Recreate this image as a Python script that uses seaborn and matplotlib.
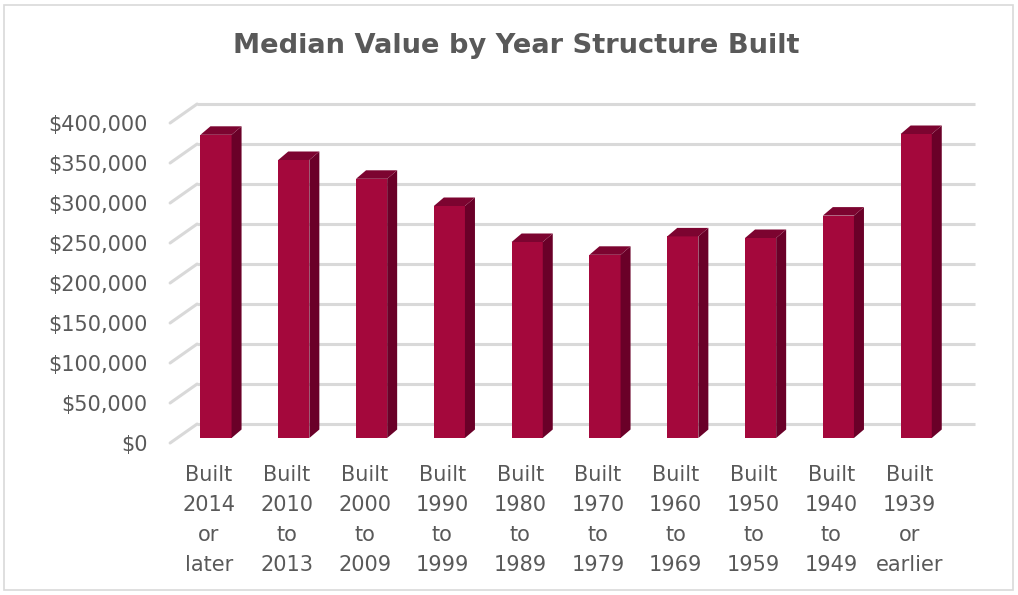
import numpy as np
import pandas as pd
import matplotlib
matplotlib.use("Agg")
import matplotlib.pyplot as plt
from matplotlib.patches import Polygon, Rectangle
import seaborn as sns

categories = ["Built\n2014\nor\nlater", "Built\n2010\nto\n2013", "Built\n2000\nto\n2009",
              "Built\n1990\nto\n1999", "Built\n1980\nto\n1989", "Built\n1970\nto\n1979",
              "Built\n1960\nto\n1969", "Built\n1950\nto\n1959", "Built\n1940\nto\n1949",
              "Built\n1939\nor\nearlier"]
values = [379000, 347500, 324000, 290000, 245000, 229000, 252000, 250000, 278000, 380000]
ticks = [0, 50000, 100000, 150000, 200000, 250000, 300000, 350000, 400000]
tick_labels = ["$0", "$50,000", "$100,000", "$150,000", "$200,000", "$250,000",
               "$300,000", "$350,000", "$400,000"]
title = "Median Value by Year Structure Built"

FRONT = "#A4083C"
SIDE = "#6A0028"
TOP = "#7C0430"
TEXT = "#595959"
GRID = "#D9D9D9"

sns.set_theme(style="white")
plt.rcParams["font.family"] = ["DejaVu Sans"]

W, H = 1018, 595
fig = plt.figure(figsize=(W / 100, H / 100), dpi=100)

px_left, px_right, px_top, px_bottom = 160, 985, 95, 450
ax = fig.add_axes([px_left / W, 1 - px_bottom / H, (px_right - px_left) / W, (px_bottom - px_top) / H])

df = pd.DataFrame({"cat": categories, "val": values})
sns.barplot(data=df, x="cat", y="val", color=FRONT, width=0.4, saturation=1,
            edgecolor="none", ax=ax, zorder=3)

xs = 77.8
ys = 0.8 / 1000
ax.set_xlim((px_left - 216) / xs, (px_right - 216) / xs)
ax.set_ylim(-(px_bottom - 438) / ys, (438 - px_top) / ys)

bar_dx, bar_dy = 10 / xs, 8.5 / ys
front_shift = 7 / xs
front_dy = -5 / ys
wall_dy = 14 / ys
n = len(categories)
x_front_left = -0.5 - front_shift
x_wall_left = x_front_left + 27 / xs
x_wall_right = n - 0.5 - front_shift + 27 / xs

for v in ticks:
    yf = v + front_dy
    yw = v + wall_dy
    ax.plot([x_wall_left, x_wall_right], [yw, yw], color=GRID, lw=2.2, zorder=1,
            solid_capstyle="butt")
    ax.plot([x_front_left, x_wall_left], [yf, yw], color=GRID, lw=2.2, zorder=1)

for p in ax.patches[:n]:
    x0 = p.get_x()
    w = p.get_width()
    h = p.get_height()
    x1 = x0 + w
    side = Polygon([(x1, 0), (x1 + bar_dx, bar_dy), (x1 + bar_dx, h + bar_dy), (x1, h)],
                   closed=True, facecolor=SIDE, edgecolor="none", zorder=3)
    top = Polygon([(x0, h), (x0 + bar_dx, h + bar_dy), (x1 + bar_dx, h + bar_dy), (x1, h)],
                  closed=True, facecolor=TOP, edgecolor="none", zorder=3)
    ax.add_patch(side)
    ax.add_patch(top)

ax.set_yticks([v + front_dy for v in ticks])
ax.set_yticklabels(tick_labels, color=TEXT, fontsize=15)
ax.set_xticks(np.arange(n) - front_shift)
ax.set_xticklabels(categories, color=TEXT, fontsize=15, linespacing=1.62, va="top")
ax.tick_params(axis="y", length=0, pad=9)
ax.tick_params(axis="x", length=0, pad=11)
ax.set_xlabel("")
ax.set_ylabel("")
for s in ax.spines.values():
    s.set_visible(False)
ax.set_facecolor("none")

fig.text(516 / W, 1 - 46 / H, title, ha="center", va="center", fontsize=19.6,
         fontweight="bold", color=TEXT)

fig.patches.append(Rectangle((4 / W, 5 / H), (1013 - 4) / W, (590 - 5) / H,
                             transform=fig.transFigure, fill=False,
                             edgecolor="#D9D9D9", lw=1.2))

fig.savefig("out.png", dpi=100)
